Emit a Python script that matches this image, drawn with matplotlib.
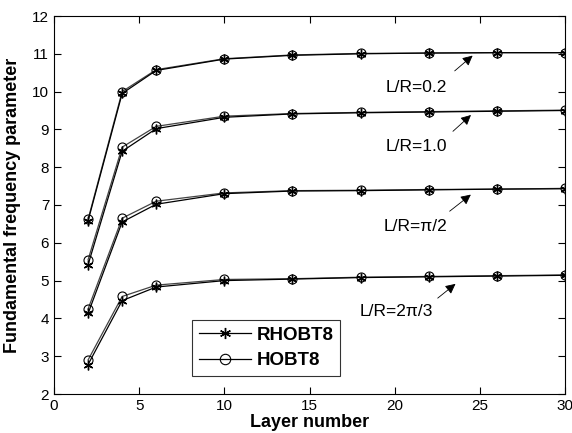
import numpy as np
import matplotlib
matplotlib.use("Agg")
import matplotlib.pyplot as plt

plt.rcParams['font.family'] = ['Liberation Sans', 'DejaVu Sans']

layers = [2, 4, 6, 10, 14, 18, 22, 26, 30]

# RHOBT8 values
rhobt_02 = [6.58, 9.95, 10.56, 10.86, 10.96, 11.00, 11.02, 11.03, 11.03]
rhobt_10 = [5.42, 8.42, 9.02, 9.32, 9.41, 9.44, 9.46, 9.48, 9.50]
rhobt_pi2 = [4.13, 6.55, 7.02, 7.30, 7.37, 7.38, 7.40, 7.42, 7.43]
rhobt_2pi3 = [2.78, 4.47, 4.83, 5.00, 5.04, 5.08, 5.10, 5.12, 5.14]

# HOBT8 values
hobt_02 = [6.62, 10.00, 10.58, 10.87, 10.97, 11.01, 11.02, 11.03, 11.03]
hobt_10 = [5.55, 8.53, 9.08, 9.35, 9.42, 9.45, 9.47, 9.49, 9.51]
hobt_pi2 = [4.25, 6.65, 7.10, 7.32, 7.38, 7.39, 7.41, 7.42, 7.44]
hobt_2pi3 = [2.90, 4.58, 4.88, 5.03, 5.05, 5.09, 5.11, 5.13, 5.15]

labels = ['L/R=0.2', 'L/R=1.0', 'L/R=\u03c0/2', 'L/R=2\u03c0/3']
text_pos = [(21.3, 10.12), (21.3, 8.56), (21.2, 6.42), (20.1, 4.17)]
arrow_head = [(24.7, 11.0), (24.6, 9.43), (24.6, 7.32), (23.7, 4.96)]
arrow_tail = [(23.4, 10.5), (23.3, 8.9), (23.1, 6.79), (22.4, 4.49)]

star = (6, 2, 0)  # asterisk marker

fig = plt.figure(figsize=(5.72, 4.33), dpi=100)
ax = fig.add_axes([54 / 572, 1 - 394 / 433, 511 / 572, 378 / 433])

for hv in [hobt_02, hobt_10, hobt_pi2, hobt_2pi3]:
    ax.plot(layers, hv, color='#444444', lw=0.9, marker='o', ms=6.5,
            mfc='none', mec='black', mew=0.8)
for rv in [rhobt_02, rhobt_10, rhobt_pi2, rhobt_2pi3]:
    ax.plot(layers, rv, color='black', lw=0.9, marker=star, ms=7,
            mec='black', mew=1.0)

for lab, tp, hd, tl in zip(labels, text_pos, arrow_head, arrow_tail):
    ax.text(tp[0], tp[1], lab, ha='center', va='center', fontsize=12.5)
    ax.annotate('', xy=hd, xytext=tl,
                arrowprops=dict(arrowstyle='-|>', color='black', lw=0.6,
                                mutation_scale=15))

h1, = ax.plot([], [], color='black', lw=0.9, marker=star, ms=8, mew=1.0)
h2, = ax.plot([], [], color='black', lw=0.9, marker='o', ms=7.5, mfc='none', mew=0.8)
leg = ax.legend([h1, h2], ['RHOBT8', 'HOBT8'], loc='lower left',
                bbox_to_anchor=(0.27, 0.048), fontsize=13.5, frameon=True,
                fancybox=False, edgecolor='black', handlelength=2.8,
                borderpad=0.35, labelspacing=0.45, handletextpad=0.3,
                borderaxespad=0)
leg.get_frame().set_linewidth(0.8)
for t in leg.get_texts():
    t.set_fontweight('bold')

ax.set_xlim(0, 30)
ax.set_ylim(2, 12)
ax.set_xticks([0, 5, 10, 15, 20, 25, 30])
ax.set_yticks(np.arange(2, 13, 1))
ax.tick_params(direction='in', top=True, right=True, labelsize=11, length=5)
for s in ax.spines.values():
    s.set_linewidth(0.8)
ax.set_xlabel('Layer number', fontsize=13, fontweight='bold', labelpad=1)
ax.set_ylabel('Fundamental frequency parameter', fontsize=13, fontweight='bold', labelpad=8)

fig.savefig('out.png', dpi=100)
